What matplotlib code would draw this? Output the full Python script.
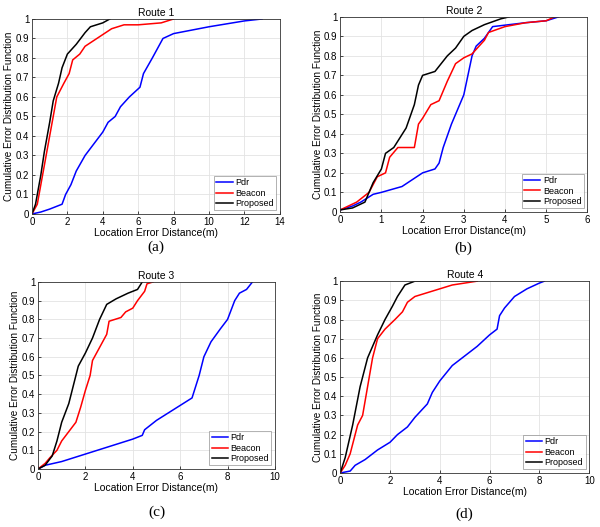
import numpy as np
import matplotlib
matplotlib.use("Agg")
import matplotlib.pyplot as plt

plt.rcParams['font.family'] = ['Liberation Sans', 'DejaVu Sans']

titles = ["Route 1", "Route 2", "Route 3", "Route 4"]
captions = ["(a)", "(b)", "(c)", "(d)"]
xmax = [14, 6, 10, 10]
labels = ["Pdr", "Beacon", "Proposed"]
colors = ["#0000ff", "#ff0000", "#000000"]

# route 1
r1_pdr_x = [0, 0.5, 1, 1.7, 1.9, 2.2, 2.5, 3, 3.5, 4, 4.3, 4.7, 5, 5.5, 6.1, 6.3, 6.8, 7.4, 8, 10, 12, 13]
r1_pdr_y = [0, 0.01, 0.025, 0.05, 0.1, 0.15, 0.22, 0.3, 0.36, 0.42, 0.47, 0.5, 0.55, 0.6, 0.65, 0.72, 0.8, 0.9, 0.925, 0.96, 0.99, 1.0]
r1_bea_x = [0, 0.3, 0.6, 0.9, 1.2, 1.4, 1.8, 2.1, 2.3, 2.7, 3, 3.5, 4, 4.5, 5.2, 6, 7.3, 8]
r1_bea_y = [0, 0.05, 0.2, 0.35, 0.5, 0.6, 0.67, 0.72, 0.79, 0.82, 0.86, 0.89, 0.92, 0.95, 0.97, 0.97, 0.98, 1.0]
r1_pro_x = [0, 0.2, 0.5, 0.7, 1, 1.2, 1.5, 1.7, 2, 2.5, 3, 3.3, 4, 4.4]
r1_pro_y = [0, 0.05, 0.2, 0.32, 0.47, 0.58, 0.67, 0.75, 0.82, 0.87, 0.93, 0.96, 0.98, 1.0]

# route 2
r2_pdr_x = [0, 0.3, 0.5, 0.8, 1, 1.5, 2, 2.3, 2.4, 2.5, 2.7, 2.9, 3, 3.1, 3.2, 3.3, 3.5, 3.7, 4.5, 5, 5.3]
r2_pdr_y = [0.01, 0.03, 0.05, 0.09, 0.1, 0.13, 0.2, 0.22, 0.25, 0.33, 0.45, 0.55, 0.6, 0.7, 0.8, 0.85, 0.89, 0.95, 0.97, 0.98, 1.0]
r2_bea_x = [0, 0.4, 0.7, 0.9, 1.1, 1.2, 1.4, 1.8, 1.9, 2, 2.2, 2.4, 2.6, 2.8, 3, 3.2, 3.5, 3.6, 4, 4.5, 5, 5.2]
r2_bea_y = [0.01, 0.05, 0.1, 0.18, 0.2, 0.28, 0.33, 0.33, 0.45, 0.48, 0.55, 0.57, 0.67, 0.76, 0.79, 0.81, 0.88, 0.92, 0.95, 0.97, 0.98, 1.0]
r2_pro_x = [0, 0.3, 0.6, 0.8, 1, 1.1, 1.3, 1.6, 1.8, 1.9, 2, 2.3, 2.6, 2.8, 3, 3.2, 3.5, 3.9, 4.1]
r2_pro_y = [0.01, 0.02, 0.05, 0.15, 0.22, 0.3, 0.33, 0.43, 0.55, 0.65, 0.7, 0.72, 0.8, 0.84, 0.9, 0.93, 0.96, 0.99, 1.0]

# route 3
r3_pdr_x = [0, 0.3, 1, 2, 3, 4, 4.4, 4.5, 5, 5.5, 6, 6.5, 6.8, 7, 7.3, 7.7, 8, 8.3, 8.5, 8.8, 9.05]
r3_pdr_y = [0, 0.02, 0.04, 0.08, 0.12, 0.16, 0.18, 0.21, 0.26, 0.3, 0.34, 0.38, 0.5, 0.6, 0.68, 0.75, 0.8, 0.9, 0.94, 0.96, 1.0]
r3_bea_x = [0, 0.3, 0.5, 0.8, 1, 1.3, 1.6, 1.8, 2, 2.2, 2.3, 2.6, 2.9, 3, 3.5, 3.7, 4, 4.2, 4.5, 4.6, 4.85]
r3_bea_y = [0, 0.03, 0.06, 0.1, 0.15, 0.2, 0.25, 0.33, 0.42, 0.5, 0.58, 0.65, 0.72, 0.79, 0.81, 0.84, 0.86, 0.9, 0.95, 0.99, 1.0]
r3_pro_x = [0, 0.3, 0.6, 0.8, 1, 1.3, 1.5, 1.7, 2, 2.3, 2.6, 2.9, 3.3, 3.8, 4.2, 4.4]
r3_pro_y = [0, 0.02, 0.07, 0.15, 0.25, 0.35, 0.45, 0.55, 0.62, 0.7, 0.8, 0.88, 0.91, 0.94, 0.96, 1.0]

# route 4
r4_pdr_x = [0, 0.2, 0.4, 0.6, 1, 1.5, 2, 2.3, 2.7, 3, 3.5, 3.7, 4, 4.5, 5, 5.5, 6, 6.3, 6.4, 6.6, 7, 7.5, 8, 8.2]
r4_pdr_y = [0, 0.005, 0.01, 0.04, 0.07, 0.12, 0.16, 0.2, 0.24, 0.29, 0.36, 0.42, 0.48, 0.56, 0.61, 0.66, 0.72, 0.75, 0.82, 0.86, 0.92, 0.96, 0.99, 1.0]
r4_bea_x = [0, 0.2, 0.4, 0.7, 0.9, 1.1, 1.3, 1.5, 1.8, 2.2, 2.5, 2.7, 3, 3.5, 4, 4.5, 5.5]
r4_bea_y = [0, 0.04, 0.1, 0.25, 0.3, 0.45, 0.6, 0.7, 0.75, 0.8, 0.84, 0.89, 0.92, 0.94, 0.96, 0.98, 1.0]
r4_pro_x = [0, 0.2, 0.5, 0.8, 1.1, 1.5, 1.8, 2.1, 2.3, 2.6, 3, 4]
r4_pro_y = [0, 0.08, 0.25, 0.45, 0.6, 0.72, 0.8, 0.87, 0.92, 0.98, 1.0, 1.0]

routes = [
    [(r1_pdr_x, r1_pdr_y), (r1_bea_x, r1_bea_y), (r1_pro_x, r1_pro_y)],
    [(r2_pdr_x, r2_pdr_y), (r2_bea_x, r2_bea_y), (r2_pro_x, r2_pro_y)],
    [(r3_pdr_x, r3_pdr_y), (r3_bea_x, r3_bea_y), (r3_pro_x, r3_pro_y)],
    [(r4_pdr_x, r4_pdr_y), (r4_bea_x, r4_bea_y), (r4_pro_x, r4_pro_y)],
]

# axes boxes in figure fractions (left, bottom, width, height)
boxes = [
    [0.0533, 0.594, 0.413, 0.370],
    [0.567, 0.598, 0.412, 0.370],
    [0.0633, 0.110, 0.395, 0.355],
    [0.567, 0.1025, 0.415, 0.364],
]
cap_y = [0.531, 0.529, 0.028, 0.024]

fig = plt.figure(figsize=(6, 5.27), dpi=100)

for i in range(4):
    ax = fig.add_axes(boxes[i])
    for (x, y), lab, c in zip(routes[i], labels, colors):
        ax.plot(x, y, color=c, lw=1.1, label=lab)
    ax.set_xlim(0, xmax[i])
    ax.set_ylim(0, 1)
    step = 2 if xmax[i] > 6 else 1
    ax.set_xticks(np.arange(0, xmax[i] + 1, step))
    yt = np.round(np.arange(0, 1.01, 0.1), 1)
    ax.set_yticks(yt)
    ax.set_yticklabels(["0"] + ["%.1f" % v for v in yt[1:-1]] + ["1"])
    ax.grid(True, color="#e3e3e3", lw=0.6)
    ax.set_axisbelow(True)
    ax.tick_params(direction="in", labelsize=7, length=2, width=0.5, pad=2)
    for s in ax.spines.values():
        s.set_linewidth(0.6)
        s.set_color("#333333")
    ax.set_title(titles[i], fontsize=7.5, pad=2)
    ax.set_xlabel("Location Error Distance(m)", fontsize=7.5, labelpad=1)
    ax.set_ylabel("Cumulative Error Distribution Function", fontsize=7.2, labelpad=1)
    leg = ax.legend(loc="lower right", fontsize=6.5, frameon=True, fancybox=False,
                    edgecolor="#777777", handlelength=1.8, borderpad=0.25,
                    labelspacing=0.15, handletextpad=0.3, borderaxespad=0.4)
    leg.get_frame().set_linewidth(0.5)
    bx = boxes[i]
    fig.text(bx[0] + bx[2] / 2, cap_y[i], captions[i], ha="center", va="center",
             fontsize=11, family="Liberation Serif")

fig.savefig("out.png", dpi=100)
